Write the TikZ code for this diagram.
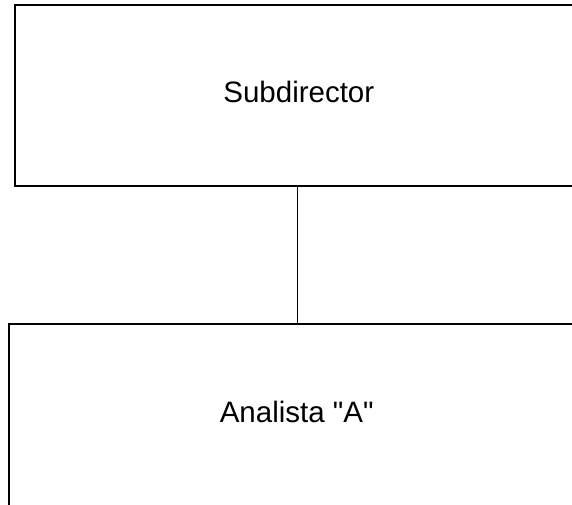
\documentclass[tikz,border=0pt]{standalone}
\usepackage{fontspec}
\setmainfont{Liberation Sans}[Ligatures=TeXOff]
\begin{document}
\begin{tikzpicture}[x=1pt,y=-1pt,
  orgbox/.style={draw=black,line width=2.2pt,rectangle,inner sep=0pt,fill=white},
  lbl/.style={font=\fontsize{29.5}{35}\selectfont,inner sep=0pt,anchor=base},
  conn/.style={draw=black,line width=1pt}]
\useasboundingbox (0,0) rectangle (572,504);
\clip (0,0) rectangle (572,504);
\node[orgbox,minimum width=565pt,minimum height=181pt] (top) at (297.5,95.5) {};
\node[orgbox,minimum width=577pt,minimum height=190pt] (bot) at (297.5,419) {};
\node[lbl] (toptxt) at (298.8,102.7) {Subdirector};
\node[lbl] (bottxt) at (296.7,422.7) {Analista "A"};
\draw[conn] (top.south) -- (bot.north);
\end{tikzpicture}
\end{document}
